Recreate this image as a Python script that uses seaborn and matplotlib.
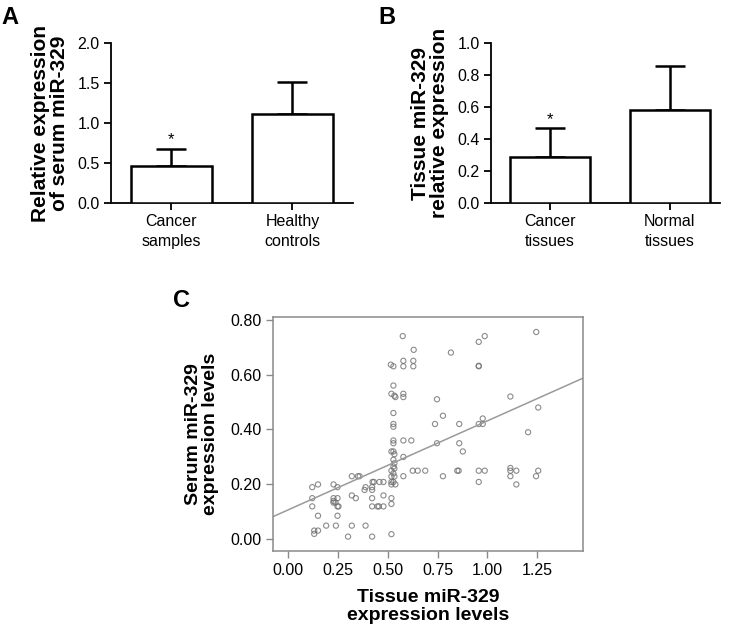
import matplotlib
matplotlib.use("Agg")
import matplotlib.pyplot as plt
import seaborn as sns
import pandas as pd

# --- data ---
serum_groups = ["Cancer\nsamples", "Healthy\ncontrols"]
serum_mean = [0.46, 1.12]
serum_sd = [0.22, 0.40]

tissue_groups = ["Cancer\ntissues", "Normal\ntissues"]
tissue_mean = [0.29, 0.58]
tissue_sd = [0.18, 0.28]

tissue_level = [
    0.575, 0.63, 0.817, 0.515, 0.528, 0.578, 0.578, 0.628, 0.628, 0.528,
    0.518, 0.533, 0.538, 0.578, 0.578, 0.747, 0.777, 0.528, 0.737, 0.528,
    0.528, 0.528, 0.578, 0.618, 0.528, 0.747, 0.518, 0.528, 0.533, 0.528,
    0.533, 0.578, 0.528, 0.533, 0.625, 0.65, 0.688, 0.518, 0.528, 0.518,
    0.533, 0.578, 0.777, 0.319, 0.35, 0.358, 0.518, 0.528, 0.538, 0.518,
    0.423, 0.43, 0.458, 0.478, 0.227, 0.149, 0.12, 0.247, 0.388, 0.383,
    0.421, 0.421, 0.319, 0.339, 0.478, 0.518, 0.12, 0.227, 0.247, 0.227,
    0.227, 0.237, 0.12, 0.247, 0.252, 0.421, 0.421, 0.448, 0.455, 0.478,
    0.518, 0.149, 0.247, 0.19, 0.239, 0.319, 0.388, 0.13, 0.149, 0.13,
    0.30, 0.421, 0.518,
    1.246, 0.957, 0.987, 0.957, 0.957, 1.116, 1.256, 0.977, 0.859, 0.957,
    0.977, 1.205, 0.859, 0.877, 0.849, 0.856, 0.957, 0.987, 1.116, 1.116,
    1.146, 1.116, 1.245, 1.256, 0.957, 1.146,
]
serum_level = [
    0.74, 0.69, 0.68, 0.636, 0.63, 0.65, 0.63, 0.65, 0.63, 0.56,
    0.53, 0.523, 0.518, 0.53, 0.518, 0.51, 0.45, 0.46, 0.42, 0.42,
    0.41, 0.36, 0.36, 0.36, 0.35, 0.35, 0.32, 0.32, 0.31, 0.29,
    0.277, 0.30, 0.265, 0.258, 0.25, 0.25, 0.25, 0.25, 0.24, 0.229,
    0.229, 0.23, 0.23, 0.23, 0.23, 0.23, 0.209, 0.209, 0.20, 0.20,
    0.209, 0.209, 0.209, 0.209, 0.20, 0.20, 0.19, 0.19, 0.19, 0.18,
    0.19, 0.18, 0.16, 0.15, 0.16, 0.15, 0.15, 0.15, 0.15, 0.14,
    0.134, 0.134, 0.12, 0.12, 0.12, 0.15, 0.12, 0.12, 0.12, 0.12,
    0.129, 0.086, 0.086, 0.05, 0.05, 0.05, 0.05, 0.032, 0.032, 0.02,
    0.01, 0.01, 0.019,
    0.755, 0.719, 0.74, 0.63, 0.632, 0.52, 0.48, 0.44, 0.42, 0.42,
    0.42, 0.39, 0.35, 0.32, 0.25, 0.25, 0.25, 0.25, 0.26, 0.25,
    0.25, 0.23, 0.23, 0.25, 0.209, 0.20,
]

sns.set_style("ticks")
plt.rcParams["font.family"] = ["Liberation Sans", "DejaVu Sans"]
plt.rcParams["text.color"] = "black"
plt.rcParams["axes.labelcolor"] = "black"
plt.rcParams["xtick.color"] = "black"
plt.rcParams["ytick.color"] = "black"
plt.rcParams["axes.edgecolor"] = "black"
plt.rcParams["axes.linewidth"] = 1.3
plt.rcParams["xtick.major.width"] = 1.3
plt.rcParams["ytick.major.width"] = 1.3

fig = plt.figure(figsize=(7.34, 6.35), dpi=100)


def bar_panel(rect, groups, means, sds, ymax, step, ylabel, star_y):
    ax = fig.add_axes(rect)
    df = pd.DataFrame({"group": groups, "value": means})
    sns.barplot(data=df, x="group", y="value", color="white", edgecolor="black",
                linewidth=1.8, width=0.67, errorbar=None, ax=ax, zorder=3)
    ax.errorbar(range(len(groups)), means, yerr=[[0] * len(sds), sds],
                fmt="none", ecolor="black", elinewidth=1.8, capsize=11,
                capthick=1.8, zorder=2)
    ax.text(0, star_y, "*", ha="center", va="center", fontsize=12)
    ax.set_xlim(-0.5, 1.5)
    ax.set_ylim(0, ymax)
    ax.set_yticks([round(i * step, 1) for i in range(int(round(ymax / step)) + 1)])
    ax.set_yticklabels([f"{t:.1f}" for t in ax.get_yticks()])
    ax.set_xticks(range(len(groups)))
    ax.set_xticklabels(groups, linespacing=1.35)
    ax.tick_params(labelsize=11.5, length=5, pad=3)
    ax.set_xlabel("")
    ax.set_ylabel(ylabel, fontsize=15, fontweight="bold", linespacing=1.0, labelpad=6)
    sns.despine(ax=ax)
    return ax


axA = bar_panel([0.151, 0.68, 0.33, 0.252], serum_groups, serum_mean, serum_sd,
                2.0, 0.5, "Relative expression\nof serum miR-329", 0.79)
axB = bar_panel([0.669, 0.68, 0.312, 0.252], tissue_groups, tissue_mean, tissue_sd,
                1.0, 0.2, "Tissue miR-329\nrelative expression", 0.525)
axB.set_xlim(-0.49, 1.42)

fig.text(0.002, 0.99, "A", fontsize=17, fontweight="bold", va="top")
fig.text(0.515, 0.99, "B", fontsize=17, fontweight="bold", va="top")
fig.text(0.236, 0.545, "C", fontsize=17, fontweight="bold", va="top")

# --- panel C: scatter with regression line ---
axC = fig.add_axes([0.372, 0.132, 0.422, 0.369])
axC.set_xlim(-0.077, 1.48)
axC.set_ylim(-0.043, 0.81)
scatter_df = pd.DataFrame({"tissue": tissue_level, "serum": serum_level})
sns.regplot(data=scatter_df, x="tissue", y="serum", ci=None, ax=axC, truncate=False,
            scatter_kws=dict(s=14, facecolors="none", edgecolors="#6e6e6e",
                             linewidths=0.8),
            line_kws=dict(color="#9a9a9a", linewidth=1.1))
axC.set_xlim(-0.077, 1.48)
axC.set_ylim(-0.043, 0.81)
axC.set_xticks([0, 0.25, 0.5, 0.75, 1.0, 1.25])
axC.set_xticklabels(["0.00", "0.25", "0.50", "0.75", "1.00", "1.25"])
axC.set_yticks([0, 0.2, 0.4, 0.6, 0.8])
axC.set_yticklabels(["0.00", "0.20", "0.40", "0.60", "0.80"])
for s in axC.spines.values():
    s.set_color("#8a8a8a")
    s.set_linewidth(1.1)
axC.tick_params(labelsize=11.5, length=5, color="#8a8a8a", width=1.0)
axC.set_xlabel("Tissue miR-329\nexpression levels", fontsize=14, fontweight="bold",
               linespacing=1.1, labelpad=8)
axC.set_ylabel("Serum miR-329\nexpression levels", fontsize=14, fontweight="bold",
               linespacing=1.0, labelpad=8)

fig.savefig("out.png", dpi=100)
